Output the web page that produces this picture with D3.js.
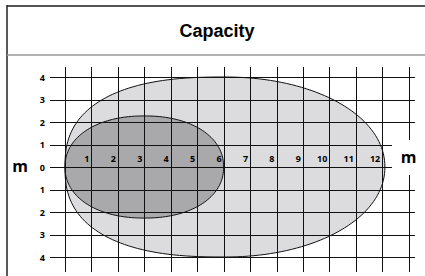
<!DOCTYPE html>
<meta charset="utf-8">
<head>
  <title>Capacity</title>
</head>
<body>
<style>
  html, body { margin: 0; padding: 0; background: #fff; }
  svg { display: block; }
  .title { font-family: "Liberation Sans", Arial, sans-serif; font-weight: bold; font-size: 18px; }
  .tick-label { font-family: "Open Sans", sans-serif; font-weight: bold; font-size: 9px; }
  .unit { font-family: "Open Sans", sans-serif; font-weight: bold; font-size: 16px; }
  .grid line { stroke: #111; stroke-width: 1px; }
</style>
<div class="chart"></div>
<script src="https://cdn.jsdelivr.net/npm/d3@7"></script>
<script>
(function() {

// reach (m) along the horizontal axis, and height (m) above / below
var xTicks = [1, 2, 3, 4, 5, 6, 7, 8, 9, 10, 11, 12];
var yTicks = [4, 3, 2, 1, 0, -1, -2, -3, -4];
var xGrid = [0, 1, 2, 3, 4, 5, 6, 7, 8, 9, 10, 11, 12, 13];

// capacity zones: from / to along x, max height
var zoneNames = ["outer", "inner"];
var zoneFrom = [0, 0];
var zoneTo = [12.1, 6];
var zoneHeight = [4, 2.27];

var width = 425, height = 276;

var svg = d3.select(".chart").append("svg")
    .attr("width", width)
    .attr("height", height);

var x = d3.scaleLinear().domain([0, 13]).range([65, 408.7]);
var y = d3.scaleLinear().domain([-4, 4]).range([257, 77]);

// frame
svg.append("line")
    .attr("x1", 7).attr("x2", width)
    .attr("y1", 6).attr("y2", 6)
    .attr("stroke", "#555").attr("stroke-width", 2);
svg.append("line")
    .attr("x1", 7).attr("x2", 7)
    .attr("y1", 5).attr("y2", height)
    .attr("stroke", "#222").attr("stroke-width", 1.5);
svg.append("line")
    .attr("x1", 7).attr("x2", width)
    .attr("y1", 55).attr("y2", 55)
    .attr("stroke", "#999").attr("stroke-width", 1.5);

svg.append("text")
    .attr("class", "title")
    .attr("x", 217).attr("y", 37)
    .attr("text-anchor", "middle")
    .text("Capacity");

// zones, drawn as superellipse-ish outlines
var colors = ["#dcdcde", "#a9a9ab"];
var exps = [[2.5, 2.05], [2.15, 2.15]];

function zonePath(i) {
  var cx = (zoneFrom[i] + zoneTo[i]) / 2,
      rx = (zoneTo[i] - zoneFrom[i]) / 2,
      ry = zoneHeight[i];
  var pts = d3.range(0, 361, 2).map(function(a) {
    var t = a * Math.PI / 180,
        c = Math.cos(t), s = Math.sin(t),
        n = c < 0 ? exps[i][0] : exps[i][1];
    var px = cx + rx * Math.sign(c) * Math.pow(Math.abs(c), 2 / n),
        py = ry * Math.sign(s) * Math.pow(Math.abs(s), 2 / n);
    return [x(px), y(py)];
  });
  return d3.line().curve(d3.curveLinearClosed)(pts);
}

svg.selectAll("path.zone")
    .data(zoneNames)
  .enter().append("path")
    .attr("class", "zone")
    .attr("d", function(d, i) { return zonePath(i); })
    .attr("fill", function(d, i) { return colors[i]; })
    .attr("stroke", "#111")
    .attr("stroke-width", 1);

// grid
var grid = svg.append("g").attr("class", "grid");

grid.selectAll("line.h")
    .data(yTicks)
  .enter().append("line")
    .attr("class", "h")
    .attr("x1", 50)
    .attr("x2", function(d) { return (d === 0 || d === 1) ? 392 : 415; })
    .attr("y1", function(d) { return Math.round(y(d)) + 0.5; })
    .attr("y2", function(d) { return Math.round(y(d)) + 0.5; });

grid.selectAll("line.v")
    .data(xGrid)
  .enter().append("line")
    .attr("class", "v")
    .attr("x1", function(d) { return Math.round(x(d)) + 0.5; })
    .attr("x2", function(d) { return Math.round(x(d)) + 0.5; })
    .attr("y1", 67)
    .attr("y2", function(d) { return d === 13 ? 140 : 272; });

grid.append("line")
    .attr("x1", Math.round(x(13)) + 0.5).attr("x2", Math.round(x(13)) + 0.5)
    .attr("y1", 175).attr("y2", 272);

// labels
svg.selectAll("text.ylab")
    .data(yTicks)
  .enter().append("text")
    .attr("class", "tick-label ylab")
    .attr("x", 45)
    .attr("y", function(d) { return y(d) + 3.5; })
    .attr("text-anchor", "end")
    .text(function(d) { return Math.abs(d); });

svg.selectAll("text.xlab")
    .data(xTicks)
  .enter().append("text")
    .attr("class", "tick-label xlab")
    .attr("x", function(d) { return x(d) - 2; })
    .attr("y", 162)
    .attr("text-anchor", "end")
    .text(function(d) { return d; });

svg.append("text")
    .attr("class", "unit")
    .attr("x", 20).attr("y", 172)
    .attr("text-anchor", "middle")
    .text("m");

svg.append("text")
    .attr("class", "unit")
    .attr("x", x(13)).attr("y", 163)
    .attr("text-anchor", "middle")
    .text("m");

})();
</script>
</body>
